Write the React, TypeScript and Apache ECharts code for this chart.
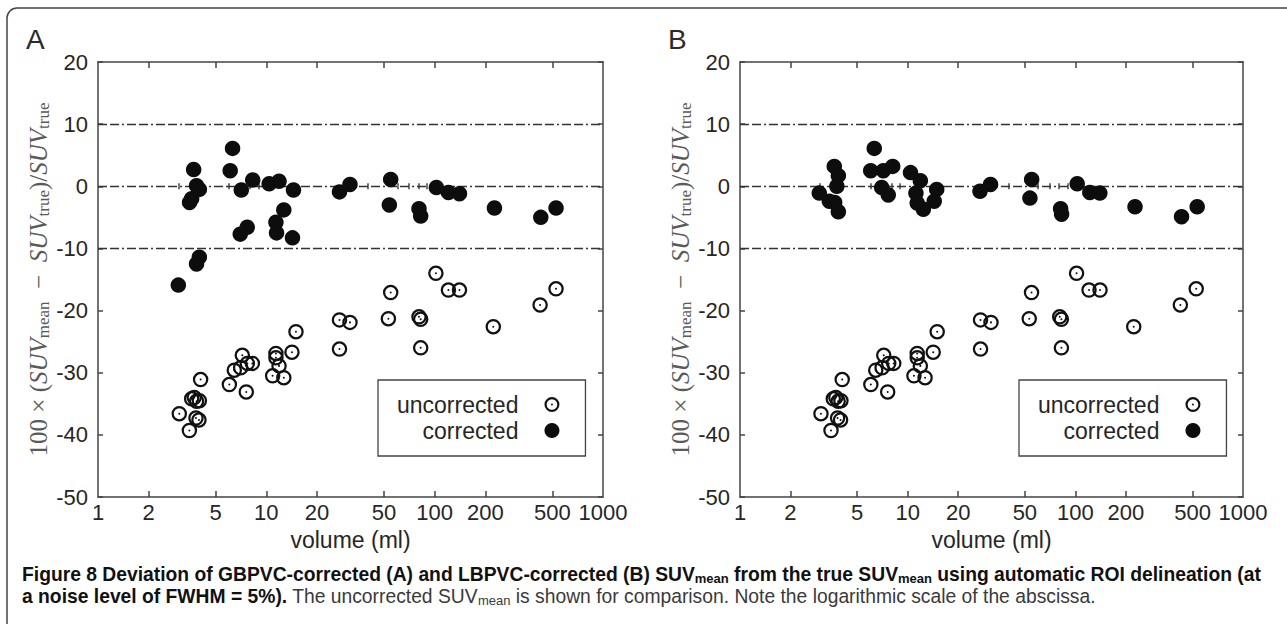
import React, { useEffect, useRef } from 'react';
import * as echarts from 'echarts';

// ---- tick / axis data ----
const xLabelValues = [1, 2, 5, 10, 20, 50, 100, 200, 500, 1000];
const xMajorTicks = [2, 5, 10, 20, 50, 100, 200, 500];
const xMinorTicks = [3, 4, 6, 7, 8, 9, 30, 40, 60, 70, 80, 90];
const yMin = -50;
const yMax = 20;
const yStep = 10;
const refLines = [10, 0, -10];
const panelLetters = ['A', 'B'];
const seriesNames = ['uncorrected', 'corrected'];

// ---- series values: [volume (ml), deviation (%)] ----
const uncorrected = [
  [3.04, -36.6], [3.49, -39.3], [3.6, -34.2], [3.73, -34.0], [3.85, -34.6], [4.0, -34.5],
  [3.82, -37.3], [3.98, -37.6], [4.07, -31.1],
  [6.03, -31.9], [6.45, -29.6], [7.04, -29.2], [7.2, -27.2], [7.71, -28.5], [8.26, -28.5], [7.6, -33.1],
  [10.9, -30.5], [11.4, -26.9], [11.4, -27.6], [11.9, -28.9], [12.7, -30.8], [14.2, -26.7], [15.0, -23.4],
  [27.2, -21.5], [31.4, -21.9], [27.2, -26.2], [53.1, -21.3], [54.8, -17.1],
  [80.7, -21.0], [82.6, -21.4], [82.6, -26.0], [101.7, -14.0], [120.7, -16.7], [140.4, -16.7],
  [223, -22.6], [423, -19.1], [526, -16.5],
];

const correctedA = [
  [3.0, -15.9], [3.7, 2.7], [3.5, -2.6], [3.6, -2.0], [3.85, 0.1], [4.0, -0.5], [4.0, -11.4], [3.85, -12.5],
  [6.3, 6.1], [6.1, 2.5], [7.1, -0.6], [8.3, 1.0], [7.0, -7.7], [7.7, -6.6],
  [10.4, 0.4], [11.9, 0.8], [14.5, -0.6], [12.7, -3.8], [11.4, -5.8], [11.5, -7.5], [14.3, -8.3],
  [27.2, -0.9], [31.4, 0.3], [54.8, 1.1], [53.8, -3.0], [80.7, -3.6], [82.6, -4.8],
  [102.4, -0.2], [120.7, -1.0], [140.4, -1.2], [226.5, -3.5], [427, -5.0], [526, -3.5],
];

const correctedB = [
  [2.97, -1.1], [3.65, 3.2], [3.86, 1.7], [3.78, 0.0], [3.41, -2.4], [3.67, -2.6], [3.86, -4.1],
  [6.32, 6.1], [6.02, 2.5], [7.16, 2.5], [8.14, 3.2], [7.0, -0.2], [7.66, -1.4],
  [10.4, 2.2], [11.9, 0.9], [11.2, -1.1], [11.4, -2.7], [12.4, -3.7], [14.4, -2.4], [14.9, -0.5],
  [27.0, -0.8], [31.2, 0.3], [54.9, 1.1], [53.6, -1.9], [81.7, -3.6], [82.8, -4.5],
  [102.6, 0.4], [122, -1.0], [140, -1.1], [227, -3.3], [430, -4.9], [533, -3.3],
];

const ringPath =
  'path://M2,12A10,10,0,1,0,22,12A10,10,0,1,0,2,12ZM4.9,12A7.1,7.1,0,1,1,19.1,12A7.1,7.1,0,1,1,4.9,12ZM10.7,12A1.3,1.3,0,1,0,13.3,12A1.3,1.3,0,1,0,10.7,12Z';

const SANS = '"Liberation Sans", Arial, Helvetica, sans-serif';
const SERIF = '"Liberation Serif", "Times New Roman", serif';
const CAP = '"Liberation Sans", Arial, sans-serif';
const AXIS_COLOR = '#444';
const TEXT_COLOR = '#262626';
const NAME_COLOR = '#5a5a5a';

const panels = [
  { left: 98, width: 505, legendLeft: 378, letterX: 26, corrected: correctedA },
  { left: 740, width: 503, legendLeft: 1019, letterX: 668, corrected: correctedB },
];

function buildOption() {
  const grid: any[] = [];
  const xAxis: any[] = [];
  const yAxis: any[] = [];
  const series: any[] = [];
  const legend: any[] = [];
  const graphic: any[] = [];

  const lineStyle = { color: AXIS_COLOR, width: 1.5 };

  panels.forEach((p, i) => {
    grid.push({ left: p.left, top: 62, width: p.width, height: 435, containLabel: false });

    const xBase = {
      type: 'log',
      logBase: 10,
      min: 1,
      max: 1000,
      gridIndex: i,
      splitLine: { show: false },
      axisLine: { show: true, onZero: false, lineStyle },
    };
    xAxis.push({
      ...xBase,
      position: 'bottom',
      name: 'volume (ml)',
      nameLocation: 'middle',
      nameGap: 29,
      nameTextStyle: { fontFamily: SANS, fontSize: 23, color: TEXT_COLOR, lineHeight: 24 },
      axisTick: { show: true, inside: true, length: 6, customValues: xMajorTicks, lineStyle },
      axisLabel: {
        show: true,
        margin: 4,
        fontFamily: SANS,
        fontSize: 22,
        color: TEXT_COLOR,
        customValues: xLabelValues,
        formatter: (v: number) => String(Math.round(v)),
      },
    });
    xAxis.push({
      ...xBase,
      position: 'bottom',
      axisLine: { show: false },
      axisTick: { show: true, inside: true, length: 3, customValues: xMinorTicks, lineStyle },
      axisLabel: { show: false },
    });
    xAxis.push({
      ...xBase,
      position: 'top',
      axisTick: { show: true, inside: true, length: 6, customValues: xMajorTicks, lineStyle },
      axisLabel: { show: false },
    });
    xAxis.push({
      ...xBase,
      position: 'top',
      axisLine: { show: false },
      axisTick: { show: true, inside: true, length: 3, customValues: xMinorTicks, lineStyle },
      axisLabel: { show: false },
    });

    const yBase = {
      type: 'value',
      min: yMin,
      max: yMax,
      interval: yStep,
      gridIndex: i,
      splitLine: { show: false },
      axisLine: { show: true, onZero: false, lineStyle },
      axisTick: { show: true, inside: true, length: 5, lineStyle },
    };
    yAxis.push({
      ...yBase,
      position: 'left',
      name:
        '{n|100 × (}{i|SUV}{s|mean}{n|  −  }{i|SUV}{s|true}{n|)/}{i|SUV}{s|true}',
      nameLocation: 'middle',
      nameRotate: 90,
      nameGap: 37,
      nameTextStyle: {
        color: NAME_COLOR,
        fontFamily: SERIF,
        fontSize: 25,
        rich: {
          n: { fontFamily: SERIF, fontSize: 25, color: NAME_COLOR, lineHeight: 28 },
          i: { fontFamily: SERIF, fontStyle: 'italic', fontSize: 25, color: NAME_COLOR, lineHeight: 28 },
          s: { fontFamily: SERIF, fontSize: 17, color: NAME_COLOR, lineHeight: 15, verticalAlign: 'bottom' },
        },
      },
      axisLabel: { show: true, margin: 10, fontFamily: SANS, fontSize: 22, color: TEXT_COLOR },
    });
    yAxis.push({
      ...yBase,
      position: 'right',
      axisLabel: { show: false },
    });

    series.push({
      name: seriesNames[0],
      type: 'scatter',
      xAxisIndex: i * 4,
      yAxisIndex: i * 2,
      symbol: ringPath,
      symbolSize: 15.5,
      itemStyle: { color: '#111', opacity: 1 },
      data: uncorrected,
      z: 3,
    });
    series.push({
      name: seriesNames[1],
      type: 'scatter',
      xAxisIndex: i * 4,
      yAxisIndex: i * 2,
      symbol: 'circle',
      symbolSize: 15.5,
      itemStyle: { color: '#0d0d0d', opacity: 1 },
      data: p.corrected,
      z: 3,
      markLine: {
        silent: true,
        symbol: ['none', 'none'],
        label: { show: false },
        lineStyle: { color: '#333', width: 1.3, type: [9, 3, 9, 3, 2, 3], opacity: 1 },
        data: refLines.map((v) => ({ yAxis: v })),
        z: 2,
      },
    });

    legend.push({
      show: true,
      left: p.legendLeft,
      top: 380,
      orient: 'vertical',
      align: 'right',
      selectedMode: false,
      data: seriesNames,
      itemWidth: 15,
      itemHeight: 15,
      itemGap: 3,
      padding: [13, 26, 14, 19],
      borderColor: AXIS_COLOR,
      borderWidth: 1.3,
      backgroundColor: '#fff',
      textStyle: { fontFamily: SANS, fontSize: 23, color: TEXT_COLOR, padding: [0, 21, 0, 0] },
    });

    graphic.push({
      type: 'text',
      x: p.letterX,
      y: 39,
      style: {
        text: panelLetters[i],
        fontFamily: SANS,
        fontSize: 28,
        fill: '#2a2a2a',
        verticalAlign: 'middle',
      },
    });
  });

  graphic.push({
    type: 'rect',
    shape: { x: 7, y: 8, width: 1400, height: 800, r: [10, 0, 0, 0] },
    style: { fill: 'none', stroke: '#444', lineWidth: 1.5 },
    silent: true,
  });

  const capRich = {
    b: { fontFamily: CAP, fontWeight: 'bold', fontSize: 19.3, fill: '#111', lineHeight: 21 },
    bs: { fontFamily: CAP, fontWeight: 'bold', fontSize: 13, fill: '#111', lineHeight: 13, verticalAlign: 'bottom' },
    r: { fontFamily: CAP, fontSize: 19.3, fill: '#3a3a3a', lineHeight: 21 },
    rs: { fontFamily: CAP, fontSize: 13, fill: '#3a3a3a', lineHeight: 13, verticalAlign: 'bottom' },
  };
  graphic.push({
    type: 'text',
    x: 22,
    y: 574,
    style: {
      text:
        '{b|Figure 8 Deviation of GBPVC-corrected (A) and LBPVC-corrected (B) SUV}{bs|mean}{b| from the true SUV}{bs|mean}{b| using automatic ROI delineation (at}',
      rich: capRich,
      verticalAlign: 'middle',
    },
  });
  graphic.push({
    type: 'text',
    x: 22,
    y: 596,
    style: {
      text:
        '{b|a noise level of FWHM = 5%).}{r| The uncorrected SUV}{rs|mean}{r| is shown for comparison. Note the logarithmic scale of the abscissa.}',
      rich: capRich,
      verticalAlign: 'middle',
    },
  });

  return {
    animation: false,
    backgroundColor: '#fff',
    grid,
    xAxis,
    yAxis,
    series,
    legend,
    graphic,
  };
}

export default function App() {
  const ref = useRef<HTMLDivElement>(null);
  useEffect(() => {
    if (!ref.current) return;
    const chart = echarts.init(ref.current, undefined, { renderer: 'svg' });
    chart.setOption(buildOption() as any);
    return () => chart.dispose();
  }, []);
  return (
    <div
      ref={ref}
      style={{ position: 'fixed', left: 0, top: 0, width: 1287, height: 624, background: '#fff' }}
    />
  );
}
